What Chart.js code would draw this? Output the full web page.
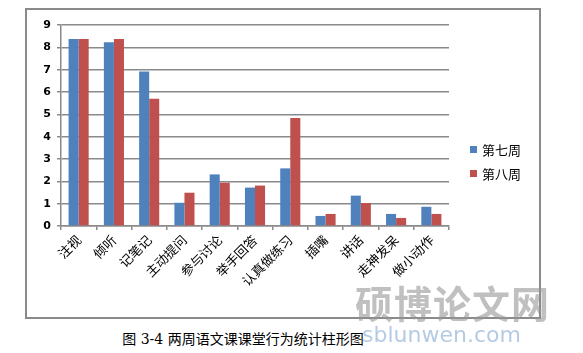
<!DOCTYPE html>
<html>
<head>
<meta charset="utf-8">
<script src="https://cdn.jsdelivr.net/npm/chart.js@4"></script>
<style>
  body { margin: 0; width: 583px; height: 353px; background: #fff; position: relative; overflow: hidden; }
  #box { position: absolute; left: 25px; top: 8px; width: 512px; height: 307px; border: 2px solid #8a8a8a; }
  #box canvas { position: absolute; left: 0; top: 0; }
  #legend { position: absolute; left: 443px; top: 127px; font: 13px "Noto Sans CJK SC", sans-serif; color: #000; }
  #legend div { height: 24px; display: flex; align-items: center; }
  #legend span.sw { display: inline-block; width: 7px; height: 7px; margin-right: 5px; }
  #caption { position: absolute; left: 0; width: 486px; top: 328px; text-align: center; font: 14px "DejaVu Serif", "Noto Sans CJK SC", serif; color: #000; }
  #wm1 { position: absolute; left: 355px; top: 274px; font: bold 38px "Noto Sans CJK SC", sans-serif; color: rgba(150,150,150,0.6); letter-spacing: 1px; }
  #wm2 { position: absolute; left: 362px; top: 322px; font: 22px "DejaVu Sans", sans-serif; color: rgba(120,160,205,0.55); }
</style>
</head>
<body>
<div id="box">
  <canvas id="myChart" width="512" height="307"></canvas>
  <div id="legend"></div>
</div>
<div id="caption">图 3-4 两周语文课课堂行为统计柱形图</div>
<div id="wm1">硕博论文网</div>
<div id="wm2">sblunwen.com</div>
<script>
const categories = ["注视", "倾听", "记笔记", "主动提问", "参与讨论", "举手回答", "认真做练习", "插嘴", "讲话", "走神发呆", "做小动作"];
const week7 = [8.37, 8.23, 6.92, 1.04, 2.31, 1.72, 2.58, 0.45, 1.36, 0.54, 0.86];
const week8 = [8.37, 8.37, 5.70, 1.49, 1.94, 1.81, 4.84, 0.54, 1.03, 0.36, 0.54];
const seriesNames = ["第七周", "第八周"];
const seriesColors = ["#4F81BD", "#C0504D"];
const yTicks = [0, 1, 2, 3, 4, 5, 6, 7, 8, 9];

const legend = document.getElementById("legend");
seriesNames.forEach((name, i) => {
  const row = document.createElement("div");
  row.innerHTML = '<span class="sw" style="background:' + seriesColors[i] + '"></span>' + name;
  legend.appendChild(row);
});

const ctx = document.getElementById("myChart").getContext("2d");
new Chart(ctx, {
  type: "bar",
  data: {
    labels: categories,
    datasets: [
      { label: seriesNames[0], data: week7, backgroundColor: seriesColors[0], borderWidth: 0 },
      { label: seriesNames[1], data: week8, backgroundColor: seriesColors[1], borderWidth: 0 },
    ],
  },
  options: {
    responsive: false,
    animation: false,
    datasets: { bar: { categoryPercentage: 0.57, barPercentage: 1 } },
    layout: { padding: { left: 0, top: 15, right: 90, bottom: 0 } },
    scales: {
      y: {
        min: 0,
        max: 9,
        afterFit: (s) => { s.width = 34; },
        afterBuildTicks: (s) => { s.ticks = yTicks.map((v) => ({ value: v })); },
        ticks: { color: "#000", font: { family: "DejaVu Sans", size: 11, weight: "bold" }, padding: 6 },
        grid: { color: "#8a8a8a", lineWidth: 1.5, tickLength: 4 },
        border: { color: "#8a8a8a", width: 1.5 },
      },
      x: {
        afterFit: (s) => { s.height = 91; },
        ticks: {
          color: "#000",
          font: { family: "Noto Sans CJK SC", size: 13 },
          minRotation: 45,
          maxRotation: 45,
          autoSkip: false,
          padding: 2,
        },
        grid: { drawOnChartArea: false, color: "#8a8a8a", lineWidth: 1.5, tickLength: 4, offset: true },
        border: { color: "#8a8a8a", width: 1.5 },
      },
    },
    plugins: {
      legend: { display: false },
      tooltip: { enabled: false },
    },
  },
});
</script>
</body>
</html>
